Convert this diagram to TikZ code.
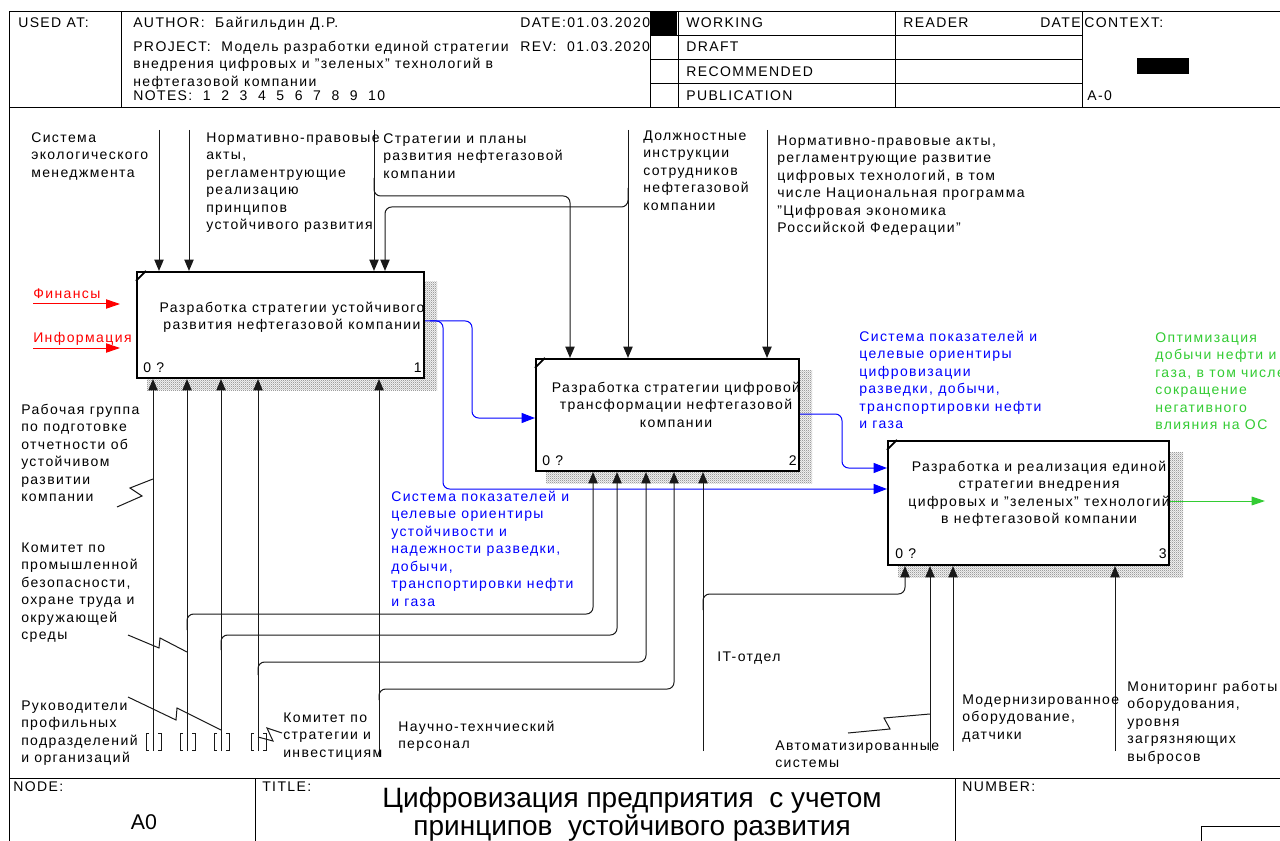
\documentclass[tikz,border=0pt]{standalone}
\usepackage{fontspec}
\setmainfont{Liberation Sans}[LetterSpace=10]
\newfontfamily\tightfont{Liberation Sans}
\usetikzlibrary{arrows.meta,patterns,fit,calc}
\pgfdeclarepatternformonly{finecheck}{\pgfpointorigin}{\pgfpoint{1.6pt}{1.6pt}}{\pgfpoint{1.6pt}{1.6pt}}{%
  \pgfpathrectangle{\pgfpointorigin}{\pgfpoint{0.8pt}{0.8pt}}%
  \pgfpathrectangle{\pgfpoint{0.8pt}{0.8pt}}{\pgfpoint{0.8pt}{0.8pt}}%
  \pgfusepath{fill}}
\definecolor{idblue}{RGB}{0,0,255}
\definecolor{idred}{RGB}{255,0,0}
\definecolor{idgreen}{RGB}{51,204,51}
\tikzset{
  txt/.style={inner sep=0pt, font=\fontsize{10.5pt}{13.1pt}\selectfont},
  lbl/.style={txt, anchor=north west, align=left},
  frame/.style={draw=black, line width=0.75pt},
  flow/.style={draw=black!90, line width=0.75pt},
  tip/.style={-{Triangle[length=8.5pt,width=7pt]}},
  blueflow/.style={draw=idblue, line width=0.75pt, -{Triangle[length=10pt,width=7.5pt]}},
  redflow/.style={draw=idred, line width=0.75pt, -{Triangle[length=10.5pt,width=7pt]}},
  greenflow/.style={draw=idgreen, line width=0.75pt, -{Triangle[length=10pt,width=6.5pt]}},
  actbox/.style={draw=black, line width=1.6pt, fill=white, inner sep=0pt},
  corner/.style={line width=1.4pt},
  smallhdr/.style={txt, anchor=base west}
}
\begin{document}
\begin{tikzpicture}[x=0.75pt,y=-0.75pt]
\clip (0,0) rectangle (1280,841);
\fill[white] (0,0) rectangle (1280,841);

% ---------- frame ----------
\draw[frame] (1290,12) -- (9,12) -- (9,850);
\draw[frame] (9,108) -- (1290,108);
\draw[frame] (9,778) -- (1290,778);
\foreach \x in {121,650,678,895,1082} \draw[frame] (\x,12) -- (\x,108);
\foreach \y in {36,60,84} \draw[frame] (650,\y) -- (1082,\y);
\draw[frame] (255,778) -- (255,850);
\draw[frame] (955,778) -- (955,850);
\draw[frame] (1201,850) -- (1201,826) -- (1290,826);

% ---------- header text ----------
\node[lbl] (usedat) at (18,15.5) {\strut USED AT:};
\node[lbl] (author) at (133,15.5) {\strut AUTHOR:\ \ Байгильдин Д.Р.};
\node[lbl] (date) at (520,15.5) {\strut DATE:01.03.2020};
\node[lbl] (project) at (133,39) {\strut PROJECT:\ \ Модель разработки единой стратегии\\внедрения цифровых и "зеленых" технологий в\\нефтегазовой компании};
\node[lbl] (rev) at (520,39) {\strut REV:\ \ 01.03.2020};
\node[lbl] (notes) at (133,88.5) {\strut NOTES:\ \ 1\ \ 2\ \ 3\ \ 4\ \ 5\ \ 6\ \ 7\ \ 8\ \ 9\ \ 10};
\fill (651,12) rectangle (677,36);
\node[lbl] (working) at (686,15.5) {\strut WORKING};
\node[lbl] (draft) at (686,39.5) {\strut DRAFT};
\node[lbl] (recommended) at (686,64) {\strut RECOMMENDED};
\node[lbl] (publication) at (686,88.5) {\strut PUBLICATION};
\node[lbl] (reader) at (903,15.5) {\strut READER};
\node[txt, anchor=north east] (rdate) at (1081,15.5) {\strut DATE};
\node[lbl] (context) at (1084,15.5) {\strut CONTEXT:};
\fill (1137,58) rectangle (1189,74);
\node[lbl] (ctxnode) at (1087,88.5) {\strut A-0};

% ---------- footer ----------
\node[smallhdr] (nodelbl) at (13,791) {NODE:};
\node[smallhdr] (titlelbl) at (262,791) {TITLE:};
\node[smallhdr] (numberlbl) at (962,791) {NUMBER:};
\node[inner sep=0pt, anchor=base, font=\tightfont\fontsize{16pt}{17pt}\selectfont] (a0) at (144,829) {A0};
\node[inner sep=0pt, anchor=base, font=\tightfont\fontsize{21pt}{21pt}\selectfont] (title1) at (632,807) {Цифровизация предприятия\ \ с учетом};
\node[inner sep=0pt, anchor=base, font=\tightfont\fontsize{21pt}{21pt}\selectfont] (title2) at (632,835) {принципов\ \ устойчивого развития};

% ---------- shadows ----------
\foreach \a/\b/\c/\d in {147/282/437/390, 546/370/812/483, 898/452/1183/577} {
  \fill[gray!8] (\a,\b) rectangle (\c,\d);
  \fill[pattern=finecheck, pattern color=black!38] (\a,\b) rectangle (\c,\d);
}

% ---------- activity boxes ----------
\node[actbox, fit={(137,272) (424,378)}] (b1) {};
\node[actbox, fit={(536,359) (799,471)}] (b2) {};
\node[actbox, fit={(888,441) (1169,565)}] (b3) {};
\draw[corner] ($(b1.north west)+(0,10)$) -- ($(b1.north west)+(10,0)$);
\draw[corner] ($(b2.north west)+(0,10)$) -- ($(b2.north west)+(10,0)$);
\draw[corner] ($(b3.north west)+(0,10)$) -- ($(b3.north west)+(10,0)$);

\node[txt, anchor=north, align=center] (t1) at (292,300) {\strut Разработка стратегии устойчивого\\развития нефтегазовой компании};
\node[txt, anchor=north, align=center] (t2) at (676,380) {\strut Разработка стратегии цифровой\\трансформации нефтегазовой\\компании};
\node[txt, anchor=north, align=center] (t3) at (1039,459) {\strut Разработка и реализация единой\\стратегии внедрения\\цифровых и "зеленых" технологий\\в нефтегазовой компании};

\node[txt, anchor=base west] (q1) at (143,372) {0 ?};
\node[txt, anchor=base east] (n1) at (422,372) {1};
\node[txt, anchor=base west] (q2) at (542,465) {0 ?};
\node[txt, anchor=base east] (n2) at (797,465) {2};
\node[txt, anchor=base west] (q3) at (895,558) {0 ?};
\node[txt, anchor=base east] (n3) at (1167,558) {3};

% ---------- controls ----------
\draw[flow,tip] (159,130) -- (159,0 |- b1.north);
\draw[flow,tip] (189,130) -- (189,0 |- b1.north);
\draw[flow,tip] (374,130) -- (374,0 |- b1.north);
\draw[flow,tip,rounded corners=5pt] (628,188) |- (385,207) -- (385,0 |- b1.north);
\draw[flow,tip,rounded corners=5pt] (374,178) |- (570,196) -- (570,0 |- b2.north);
\draw[flow,tip] (628,130) -- (628,0 |- b2.north);
\draw[flow,tip] (767,130) -- (767,0 |- b2.north);

% ---------- inputs ----------
\coordinate (fin0) at (33,304);
\coordinate (fin1) at (120,304);
\coordinate (inf0) at (33,348);
\coordinate (inf1) at (120,348);
\draw[redflow] (fin0) -- (fin1);
\draw[redflow] (inf0) -- (inf1);

% ---------- outputs ----------
\draw[blueflow, rounded corners=5pt] (b1.east |- 0,321) -| (472,370) |- (b2.west |- 0,418);
\draw[blueflow, rounded corners=5pt] (430,321) -| (443,400) |- (b3.west |- 0,489);
\draw[blueflow, rounded corners=5pt] (b2.east |- 0,414) -| (842,440) |- (b3.west |- 0,468);
\coordinate (out3) at (1265,501);
\draw[greenflow] (b3.east |- 0,501) -- (out3);

% ---------- mechanisms ----------
\foreach \x in {153,187,221,258} \draw[flow,tip] (\x,751) -- (\x,0 |- b1.south);
\draw[flow,tip] (379,757) -- (379,0 |- b1.south);
\draw[flow,tip,rounded corners=5pt] (187,630) |- (593,614) -- (593,0 |- b2.south);
\draw[flow,tip,rounded corners=5pt] (221,650) |- (617,635) -- (617,0 |- b2.south);
\draw[flow,tip,rounded corners=5pt] (258,675) |- (646,662) -- (646,0 |- b2.south);
\draw[flow,tip,rounded corners=5pt] (379,700) |- (674,689) -- (674,0 |- b2.south);
\draw[flow,tip] (703,751) -- (703,0 |- b2.south);
\draw[flow,tip,rounded corners=5pt] (703,610) |- (905,594) -- (905,0 |- b3.south);
\draw[flow,tip] (930,751) -- (930,0 |- b3.south);
\draw[flow,tip] (953,751) -- (953,0 |- b3.south);
\draw[flow,tip] (1115,751) -- (1115,0 |- b3.south);

% tunnel brackets
\foreach \x in {153,187,221,258} {
  \draw[flow] (\x-4,733) -- (\x-7,733) -- (\x-7,750) -- (\x-4,750);
  \draw[flow] (\x+5,733) -- (\x+8,733) -- (\x+8,750) -- (\x+5,750);
}
% squiggles
\draw[flow] (117,507) -- (142,496) -- (130,488) -- (153,479);
\draw[flow] (128,635) -- (159,648) -- (160,638) -- (187,652);
\draw[flow] (128,697) -- (176,720) -- (177,708) -- (221,730);
\draw[flow] (282,733) -- (267,728) -- (273,741) -- (258,737);
\draw[flow] (848,733) -- (890,729) -- (884,718) -- (930,714);

% ---------- labels ----------
\node[lbl] (l1) at (31,130) {\strut Система\\экологического\\менеджмента};
\node[lbl] (l2) at (206,130) {\strut Нормативно-правовые\\акты,\\регламентрующие\\реализацию\\принципов\\устойчивого развития};
\node[lbl] (l3) at (383,131) {\strut Стратегии и планы\\развития нефтегазовой\\компании};
\node[lbl] (l4) at (643,128) {\strut Должностные\\инструкции\\сотрудников\\нефтегазовой\\компании};
\node[lbl] (l5) at (777,133) {\strut Нормативно-правовые акты,\\регламентрующие развитие\\цифровых технологий, в том\\числе Национальная программа\\"Цифровая экономика\\Российской Федерации"};
\node[lbl, text=idred] (l6) at (33,286) {\strut Финансы};
\node[lbl, text=idred] (l7) at (33,330) {\strut Информация};
\node[lbl, text=idblue] (l8) at (859,329) {\strut Система показателей и\\целевые ориентиры\\цифровизации\\разведки, добычи,\\транспортировки нефти\\и газа};
\node[lbl, text=idgreen] (l9) at (1155,330) {\strut Оптимизация\\добычи нефти и\\газа, в том числе\\сокращение\\негативного\\влияния на ОС};
\node[lbl, text=idblue] (l10) at (391,489) {\strut Система показателей и\\целевые ориентиры\\устойчивости и\\надежности разведки,\\добычи,\\транспортировки нефти\\и газа};
\node[lbl] (l11) at (21,402) {\strut Рабочая группа\\по подготовке\\отчетности об\\устойчивом\\развитии\\компании};
\node[lbl] (l12) at (21,540) {\strut Комитет по\\промышленной\\безопасности,\\охране труда и\\окружающей\\среды};
\node[lbl] (l13) at (21,698) {\strut Руководители\\профильных\\подразделений\\и организаций};
\node[lbl] (l14) at (283,710) {\strut Комитет по\\стратегии и\\инвестициям};
\node[lbl] (l15) at (398,719) {\strut Научно-технчиеский\\персонал};
\node[lbl] (l16) at (717,649) {\strut IT-отдел};
\node[lbl] (l17) at (775,738) {\strut Автоматизированные\\системы};
\node[lbl] (l18) at (962,692) {\strut Модернизированное\\оборудование,\\датчики};
\node[lbl] (l19) at (1127,679) {\strut Мониторинг работы\\оборудования,\\уровня\\загрязняющих\\выбросов};
\end{tikzpicture}
\end{document}
